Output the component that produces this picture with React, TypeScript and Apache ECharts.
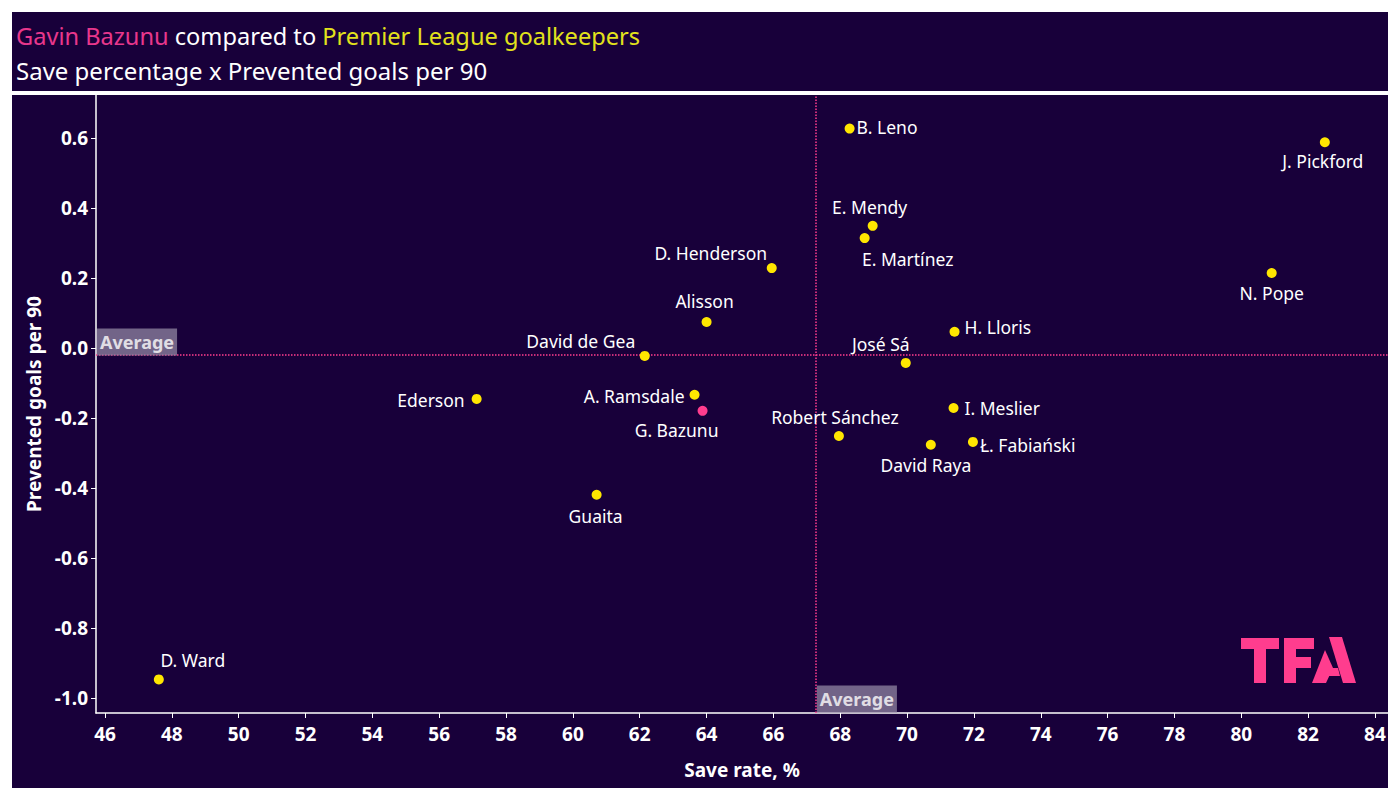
import React, { useEffect, useRef } from "react";
import * as echarts from "echarts";

const players = [
  "B. Leno", "J. Pickford", "E. Mendy", "E. Martínez", "D. Henderson", "N. Pope",
  "Alisson", "H. Lloris", "David de Gea", "José Sá", "Ederson", "A. Ramsdale",
  "G. Bazunu", "I. Meslier", "Robert Sánchez", "David Raya", "Ł. Fabiański",
  "Guaita", "D. Ward",
];
const saveRate = [
  68.28, 82.5, 68.97, 68.73, 65.95, 80.91,
  64.0, 71.42, 62.15, 69.96, 57.12, 63.64,
  63.88, 71.39, 67.96, 70.71, 71.97,
  60.71, 47.61,
];
const preventedPer90 = [
  0.628, 0.589, 0.35, 0.315, 0.229, 0.215,
  0.075, 0.047, -0.022, -0.042, -0.145, -0.133,
  -0.179, -0.171, -0.251, -0.276, -0.268,
  -0.419, -0.947,
];
const highlighted = "G. Bazunu";
const avgSaveRate = 67.27;
const avgPrevented = -0.022;
const xTicks = [46, 48, 50, 52, 54, 56, 58, 60, 62, 64, 66, 68, 70, 72, 74, 76, 78, 80, 82, 84];
const yTicks = [-1.0, -0.8, -0.6, -0.4, -0.2, 0.0, 0.2, 0.4, 0.6];
const xMin = 45.73;
const xMax = 84.39;
const yMin = -1.043;
const yMax = 0.724;

// label placement (style, not data)
const labelPlace: Record<string, { position: string; offset?: number[]; distance?: number }> = {
  "B. Leno": { position: "right", distance: 2, offset: [0, -2] },
  "J. Pickford": { position: "bottom", offset: [-2, 0] },
  "E. Mendy": { position: "top", offset: [-3, 0] },
  "E. Martínez": { position: "bottom", offset: [43, 2] },
  "D. Henderson": { position: "top", offset: [-61, 4] },
  "N. Pope": { position: "bottom", offset: [0, 1] },
  "Alisson": { position: "top", offset: [-2, -2] },
  "H. Lloris": { position: "right", distance: 5, offset: [0, -5] },
  "David de Gea": { position: "top", offset: [-64, 4] },
  "José Sá": { position: "top", offset: [-25, 0] },
  "Ederson": { position: "left", distance: 7, offset: [0, 1] },
  "A. Ramsdale": { position: "left", distance: 5, offset: [0, 1] },
  "G. Bazunu": { position: "bottom", offset: [-26, 0] },
  "I. Meslier": { position: "right", distance: 6, offset: [0, 0] },
  "Robert Sánchez": { position: "top", offset: [-4, 0] },
  "David Raya": { position: "bottom", offset: [-5, 1] },
  "Ł. Fabiański": { position: "right", distance: 2, offset: [0, 3] },
  "Guaita": { position: "bottom", offset: [-1, 2] },
  "D. Ward": { position: "top", offset: [34, 0] },
};

const BG = "#18003a";
const PINK = "#ff3d8e";
const YELLOW = "#ffe600";
const FONT = "'Noto Sans', 'DejaVu Sans', sans-serif";

export default function App() {
  const ref = useRef<HTMLDivElement>(null);

  useEffect(() => {
    if (!ref.current) return;
    const chart = echarts.init(ref.current, undefined, { renderer: "svg" });

    const data = players.map((name, i) => {
      const lp = labelPlace[name] || { position: "top" };
      const isHi = name === highlighted;
      return {
        name,
        value: [saveRate[i], preventedPer90[i]],
        itemStyle: { color: isHi ? PINK : YELLOW, opacity: 1 },
        label: {
          show: true,
          formatter: name,
          position: lp.position,
          distance: lp.distance ?? 5,
          offset: lp.offset ?? [0, 0],
        },
      };
    });

    const option: any = {
      animation: false,
      backgroundColor: "#ffffff",
      textStyle: { fontFamily: FONT },
      graphic: [
        { type: "rect", z: -10, silent: true, shape: { x: 12, y: 12, width: 1376, height: 79 }, style: { fill: BG } },
        { type: "rect", z: -10, silent: true, shape: { x: 12, y: 95, width: 1376, height: 693 }, style: { fill: BG } },
        {
          type: "text",
          x: 16,
          y: 36,
          style: {
            text: "{p|Gavin Bazunu} {w|compared to} {y|Premier League goalkeepers}",
            verticalAlign: "middle",
            rich: {
              p: { fill: "#e8378c", fontSize: 23.6, fontFamily: FONT },
              w: { fill: "#ffffff", fontSize: 23.6, fontFamily: FONT },
              y: { fill: "#e2e21c", fontSize: 23.6, fontFamily: FONT },
            },
            fontSize: 23.6,
            fontFamily: FONT,
          },
        },
        {
          type: "text",
          x: 16,
          y: 70,
          style: {
            text: "Save percentage x Prevented goals per 90",
            fill: "#ffffff",
            fontSize: 24,
            fontFamily: FONT,
            verticalAlign: "middle",
          },
        },
        // TFA logo
        { type: "rect", shape: { x: 1241, y: 638, width: 38, height: 11 }, style: { fill: PINK } },
        { type: "rect", shape: { x: 1254, y: 649, width: 12, height: 34 }, style: { fill: PINK } },
        { type: "rect", shape: { x: 1284, y: 638, width: 30, height: 11 }, style: { fill: PINK } },
        { type: "rect", shape: { x: 1284, y: 649, width: 12, height: 34 }, style: { fill: PINK } },
        { type: "rect", shape: { x: 1296, y: 657, width: 15, height: 11 }, style: { fill: PINK } },
        {
          type: "polygon",
          shape: { points: [[1329, 637], [1342, 637], [1356, 683], [1343, 683]] },
          style: { fill: PINK },
        },
        {
          type: "polygon",
          shape: { points: [[1325, 650], [1333, 668], [1326, 683], [1312, 683]] },
          style: { fill: PINK },
        },
        {
          type: "polygon",
          shape: { points: [[1322, 668], [1338, 668], [1340, 676], [1319, 676]] },
          style: { fill: PINK },
        },
      ],
      grid: { left: 96, right: 12, top: 95, bottom: 87, containLabel: false },
      xAxis: {
        type: "value",
        min: xMin,
        max: xMax,
        name: "Save rate, %",
        nameLocation: "middle",
        nameGap: 47,
        nameTextStyle: { color: "#ffffff", fontSize: 19, fontWeight: "bold", fontFamily: FONT },
        axisLine: { show: true, onZero: false, lineStyle: { color: "#ffffff", width: 1.5 } },
        axisTick: { show: true, length: 5, lineStyle: { color: "#ffffff" }, customValues: xTicks },
        axisLabel: {
          color: "#ffffff",
          fontSize: 19,
          fontWeight: "bold",
          fontFamily: FONT,
          margin: 11,
          customValues: xTicks,
        },
        splitLine: { show: false },
      },
      yAxis: {
        type: "value",
        min: yMin,
        max: yMax,
        name: "Prevented goals per 90",
        nameLocation: "middle",
        nameGap: 53,
        nameRotate: 90,
        nameTextStyle: { color: "#ffffff", fontSize: 19, fontWeight: "bold", fontFamily: FONT },
        axisLine: { show: true, onZero: false, lineStyle: { color: "#ffffff", width: 1.5 } },
        axisTick: { show: true, length: 5, lineStyle: { color: "#ffffff" }, customValues: yTicks },
        axisLabel: {
          color: "#ffffff",
          fontSize: 19,
          fontWeight: "bold",
          fontFamily: FONT,
          margin: 8,
          customValues: yTicks,
          formatter: (v: number) => v.toFixed(1),
        },
        splitLine: { show: false },
      },
      series: [
        {
          type: "scatter",
          symbolSize: 10,
          data,
          itemStyle: { opacity: 1 },
          label: {
            color: "#ffffff",
            fontSize: 17.5,
            fontFamily: FONT,
          },
          z: 5,
          markLine: {
            silent: true,
            symbol: "none",
            label: { show: false },
            lineStyle: { color: PINK, type: "dotted", width: 1.5 },
            data: [{ xAxis: avgSaveRate }, { yAxis: avgPrevented }],
          },
        },
        {
          type: "scatter",
          symbolSize: 0,
          silent: true,
          z: 6,
          data: [
            { value: [xMin, avgPrevented] },
            { value: [avgSaveRate, yMin] },
          ],
          label: {
            show: true,
            formatter: "Average",
            position: "right",
            distance: 1,
            offset: [0, -14],
            color: "#ffffff",
            fontSize: 18,
            fontWeight: "bold",
            fontFamily: FONT,
            backgroundColor: "#8a7d9c",
            padding: [5, 3, 4, 3],
          },
        },
      ],
    };

    chart.setOption(option);
    return () => chart.dispose();
  }, []);

  return (
    <div
      ref={ref}
      style={{ position: "fixed", left: 0, top: 0, width: 1400, height: 800 }}
    />
  );
}
